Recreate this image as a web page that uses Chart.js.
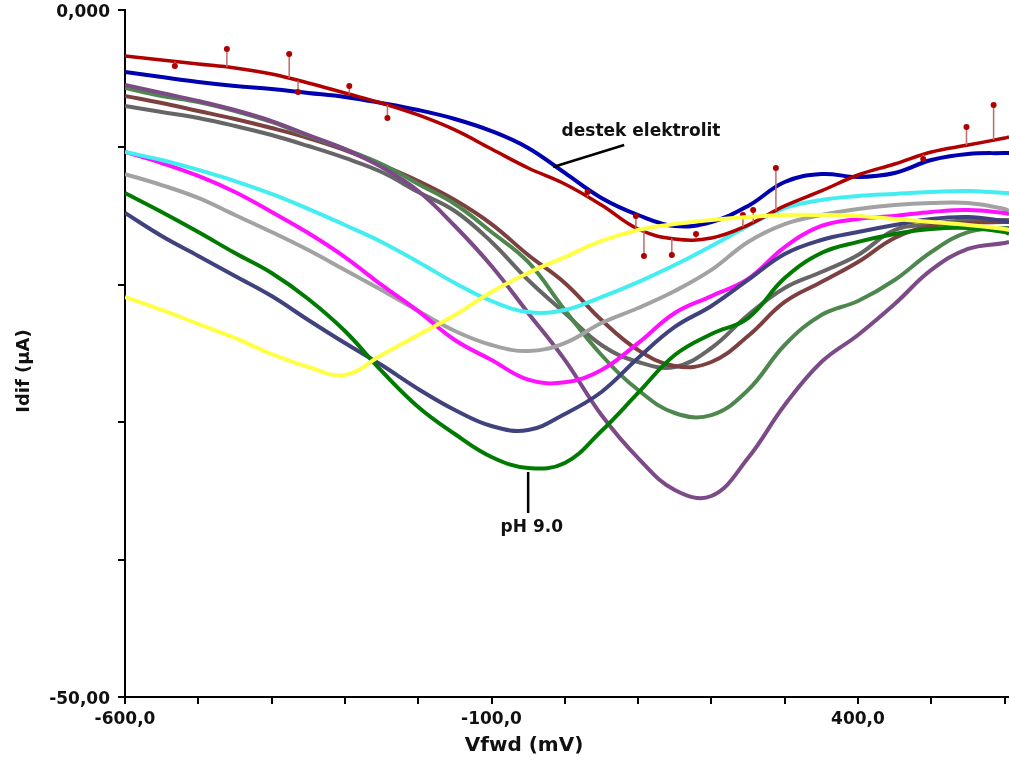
<!DOCTYPE html>
<html>
<head>
<meta charset="utf-8">
<title>Idif - Vfwd</title>
<script src="https://cdn.jsdelivr.net/npm/chart.js@4.4.1/dist/chart.umd.min.js"></script>
<style>
    html, body { margin: 0; padding: 0; background: #fff; overflow: hidden; }
    canvas { display: block; }
</style>
</head>
<body>
<canvas id="dpvChart" width="1009" height="767"></canvas>
<script>
// Potential (mV), shared by every voltammogram
const vfwd = [-600, -550, -500, -450, -400, -350, -300, -250, -200, -150, -100, -50, 0,
    50, 100, 150, 200, 250, 300, 350, 400, 450, 500, 550, 600, 606];

// Differential current (uA)
const destekElektrolit = [-3.35, -3.64, -3.93, -4.22, -4.66, -5.31, -6.04, -6.77, -7.64, -8.73, -10.12, -11.50, -12.66,
    -14.19, -15.94, -16.67, -16.59, -15.65, -14.26, -13.17, -12.01, -11.21, -10.33, -9.83, -9.32, -9.24];
const blueSeries = [-4.51, -4.88, -5.24, -5.53, -5.75, -6.04, -6.33, -6.77, -7.28, -7.93, -8.81, -10.04, -11.86,
    -13.68, -14.92, -15.72, -15.43, -14.26, -12.52, -11.94, -12.15, -11.86, -10.92, -10.48, -10.41, -10.41];
const purpleSeries = [-5.46, -6.04, -6.62, -7.28, -8.08, -9.10, -10.12, -11.43, -13.17, -15.72, -18.63, -22.05, -25.47,
    -29.48, -32.61, -34.93, -35.37, -32.61, -28.75, -25.62, -23.65, -21.40, -18.92, -17.39, -16.96, -16.88];
const greenGraySeries = [-5.68, -6.26, -6.70, -7.35, -8.15, -9.17, -10.12, -11.21, -12.66, -14.12, -16.16, -18.34, -21.83,
    -25.11, -27.66, -29.33, -29.48, -27.66, -24.38, -22.20, -21.18, -19.65, -17.61, -16.16, -15.87, -15.87];
const brownSeries = [-6.26, -6.77, -7.35, -7.93, -8.59, -9.32, -10.19, -11.28, -12.45, -13.83, -15.58, -17.83, -19.87,
    -22.56, -24.75, -25.91, -25.62, -23.73, -21.25, -19.80, -18.34, -16.59, -15.72, -15.50, -15.43, -15.43];
const darkGraySeries = [-6.99, -7.42, -7.86, -8.44, -9.10, -9.90, -10.77, -11.79, -13.25, -14.63, -16.88, -19.65, -22.05,
    -24.38, -25.62, -25.98, -24.60, -22.20, -20.23, -19.07, -17.83, -16.01, -15.58, -15.28, -15.28, -15.28];
const cyanSeries = [-10.33, -10.92, -11.64, -12.45, -13.39, -14.48, -15.65, -16.88, -18.34, -19.87, -21.18, -21.98, -21.83,
    -20.89, -19.80, -18.56, -17.18, -15.72, -14.41, -13.83, -13.54, -13.39, -13.25, -13.17, -13.32, -13.32];
const lightGraySeries = [-11.94, -12.74, -13.68, -14.92, -16.16, -17.47, -18.92, -20.38, -21.91, -23.36, -24.38, -24.82, -24.24,
    -22.78, -21.69, -20.45, -18.92, -16.88, -15.58, -14.92, -14.48, -14.19, -14.05, -14.05, -14.48, -14.63];
const magentaSeries = [-10.33, -11.14, -12.08, -13.25, -14.70, -16.23, -17.98, -20.01, -21.91, -24.02, -25.47, -26.90, -27.10,
    -26.20, -24.24, -22.05, -20.82, -19.58, -17.25, -15.72, -15.21, -14.99, -14.70, -14.56, -14.77, -14.85];
const navySeries = [-14.77, -16.45, -17.90, -19.36, -20.82, -22.56, -24.24, -25.84, -27.58, -29.11, -30.28, -30.57, -29.40,
    -27.80, -25.33, -23.07, -21.54, -19.65, -17.76, -16.74, -16.16, -15.65, -15.21, -15.07, -15.36, -15.43];
const ph90Series = [-13.32, -14.70, -16.16, -17.69, -19.14, -21.03, -23.36, -26.27, -28.89, -30.86, -32.53, -33.33, -32.97,
    -30.64, -27.87, -25.11, -23.58, -22.42, -19.51, -17.69, -16.88, -16.30, -15.94, -15.87, -16.16, -16.30];
const yellowSeries = [-20.89, -21.83, -22.85, -23.87, -25.04, -25.98, -26.56, -25.11, -23.65, -22.20, -20.52, -19.14, -17.98,
    -16.81, -16.01, -15.58, -15.28, -15.07, -14.92, -14.92, -14.99, -15.21, -15.43, -15.65, -15.94, -16.01];

// Noise spikes on the supporting electrolyte scan
const spikeMv = [-532, -461, -376, -364, -294, -242, 31, 97, 108, 146, 179, 243, 257, 288, 489, 548, 585];
const spikeBase = [-3.74, -4.16, -4.97, -5.13, -6.13, -6.91, -13.61, -15.84, -16.06, -16.61, -16.62, -15.78, -15.46, -14.59, -10.52, -9.85, -9.47];
const spikeTip = [-4.08, -2.84, -3.20, -5.97, -5.53, -7.86, -13.25, -14.99, -17.90, -17.83, -16.30, -14.92, -14.56, -11.50, -10.84, -8.52, -6.91];

// Ticks and their labels
const xTickValues = [-600, -500, -400, -300, -200, -100, 0, 100, 200, 300, 400, 500, 600];
const xLabelValues = [-600, -100, 400];
const xLabelTexts = ['-600,0', '-100,0', '400,0'];
const yTickValues = [0, -10, -20, -30, -40, -50];
const yLabelValues = [0, -50];
const yLabelTexts = ['0,000', '-50,00'];

// Callouts: text position and leader line, in (mV, uA)
const calloutTexts = ['destek elektrolit', 'pH 9.0'];
const calloutAt = [[104, -8.88], [-45, -37.70]];
const calloutFrom = [[81, -9.83], [-50, -33.62]];
const calloutTo = [[-16, -11.43], [-50, -36.61]];

const colors = {
    red: '#b00000',
    spike: '#c46a6a',
    blue: '#0000b0',
    purple: '#7b4a87',
    greenGray: '#4e874e',
    brown: '#7d4040',
    darkGray: '#666666',
    cyan: '#44eef0',
    lightGray: '#a2a2a2',
    magenta: '#ff10ff',
    navy: '#40427e',
    green: '#007a00',
    yellow: '#ffff44'
};

const FONT = '"DejaVu Sans", "Liberation Sans", Arial, sans-serif';

function toPoints(values) {
    return vfwd.map((x, i) => ({ x: x, y: values[i] }));
}

function curve(values, color, width) {
    return {
        data: toPoints(values),
        borderColor: color,
        backgroundColor: color,
        borderWidth: width || 4,
        pointRadius: 0,
        tension: 0.4,
        fill: false
    };
}

function spikeData() {
    const pts = [];
    spikeMv.forEach((x, i) => {
        pts.push({ x: x, y: spikeBase[i] });
        pts.push({ x: x, y: spikeTip[i] });
        pts.push({ x: x, y: null });
    });
    return pts;
}

function labelFor(values, texts) {
    return (v) => {
        const i = values.findIndex((t) => Math.abs(t - v) < 1e-6);
        return i >= 0 ? texts[i] : '';
    };
}

// Callouts and axis titles
const overlayPlugin = {
    id: 'overlay',
    afterDatasetsDraw(chart) {
        const { ctx, scales: { x, y } } = chart;
        ctx.save();
        ctx.strokeStyle = '#000';
        ctx.lineWidth = 2.5;
        ctx.fillStyle = '#111';
        ctx.font = 'bold 17px ' + FONT;
        ctx.textAlign = 'center';
        ctx.textBaseline = 'middle';
        calloutTexts.forEach((t, i) => {
            ctx.beginPath();
            ctx.moveTo(x.getPixelForValue(calloutFrom[i][0]), y.getPixelForValue(calloutFrom[i][1]));
            ctx.lineTo(x.getPixelForValue(calloutTo[i][0]), y.getPixelForValue(calloutTo[i][1]));
            ctx.stroke();
            ctx.fillText(t, x.getPixelForValue(calloutAt[i][0]), y.getPixelForValue(calloutAt[i][1]));
        });
        ctx.restore();
    },
    afterDraw(chart) {
        const ctx = chart.ctx;
        ctx.save();
        ctx.fillStyle = '#111';
        ctx.textAlign = 'center';
        ctx.textBaseline = 'middle';
        ctx.font = 'bold 20px ' + FONT;
        ctx.fillText('Vfwd (mV)', 524, 746);
        ctx.translate(24, 371);
        ctx.rotate(-Math.PI / 2);
        ctx.font = 'bold 18px ' + FONT;
        ctx.fillText('Idif (\u00b5A)', 0, 0);
        ctx.restore();
    }
};

function renderDpvChart() {
    const canvas = document.getElementById('dpvChart');
    if (!canvas) return;

    new Chart(canvas.getContext('2d'), {
        type: 'line',
        data: {
            datasets: [
                curve(yellowSeries, colors.yellow),
                {
                    data: spikeData(),
                    borderColor: colors.spike,
                    backgroundColor: colors.red,
                    borderWidth: 1.5,
                    tension: 0,
                    spanGaps: false,
                    pointRadius: (c) => (c.dataIndex % 3 === 1 ? 3 : 0),
                    pointBorderWidth: 0
                },
                curve(destekElektrolit, colors.red, 3.5),
                curve(blueSeries, colors.blue),
                curve(cyanSeries, colors.cyan),
                curve(ph90Series, colors.green),
                curve(navySeries, colors.navy),
                curve(magentaSeries, colors.magenta),
                curve(lightGraySeries, colors.lightGray),
                curve(purpleSeries, colors.purple),
                curve(greenGraySeries, colors.greenGray),
                curve(brownSeries, colors.brown),
                curve(darkGraySeries, colors.darkGray)
            ]
        },
        options: {
            responsive: false,
            animation: false,
            devicePixelRatio: 1,
            layout: { padding: { top: 10, right: 0, left: 0, bottom: 0 } },
            plugins: {
                legend: { display: false },
                tooltip: { enabled: false }
            },
            scales: {
                x: {
                    type: 'linear',
                    min: -600,
                    max: 606,
                    afterFit: (scale) => {
                        scale.height = 70;
                        scale.paddingLeft = 0;
                        scale.paddingRight = 0;
                    },
                    afterBuildTicks: (scale) => { scale.ticks = xTickValues.map((v) => ({ value: v })); },
                    border: { display: true, color: '#000', width: 2 },
                    grid: { drawOnChartArea: false, drawTicks: true, tickLength: 7, color: '#000', lineWidth: 2 },
                    ticks: {
                        autoSkip: false,
                        maxRotation: 0,
                        padding: 5,
                        color: '#111',
                        font: { family: FONT, size: 17, weight: 'bold' },
                        callback: labelFor(xLabelValues, xLabelTexts)
                    }
                },
                y: {
                    type: 'linear',
                    min: -50,
                    max: 0,
                    afterFit: (scale) => {
                        scale.width = 125;
                        scale.paddingTop = 0;
                        scale.paddingBottom = 0;
                    },
                    afterBuildTicks: (scale) => { scale.ticks = yTickValues.map((v) => ({ value: v })); },
                    border: { display: true, color: '#000', width: 2 },
                    grid: { drawOnChartArea: false, drawTicks: true, tickLength: 7, color: '#000', lineWidth: 2 },
                    ticks: {
                        autoSkip: false,
                        padding: 8,
                        labelOffset: 3,
                        color: '#111',
                        font: { family: FONT, size: 17, weight: 'bold' },
                        callback: labelFor(yLabelValues, yLabelTexts)
                    }
                }
            }
        },
        plugins: [overlayPlugin]
    });
}

document.addEventListener('DOMContentLoaded', renderDpvChart);
</script>
</body>
</html>
